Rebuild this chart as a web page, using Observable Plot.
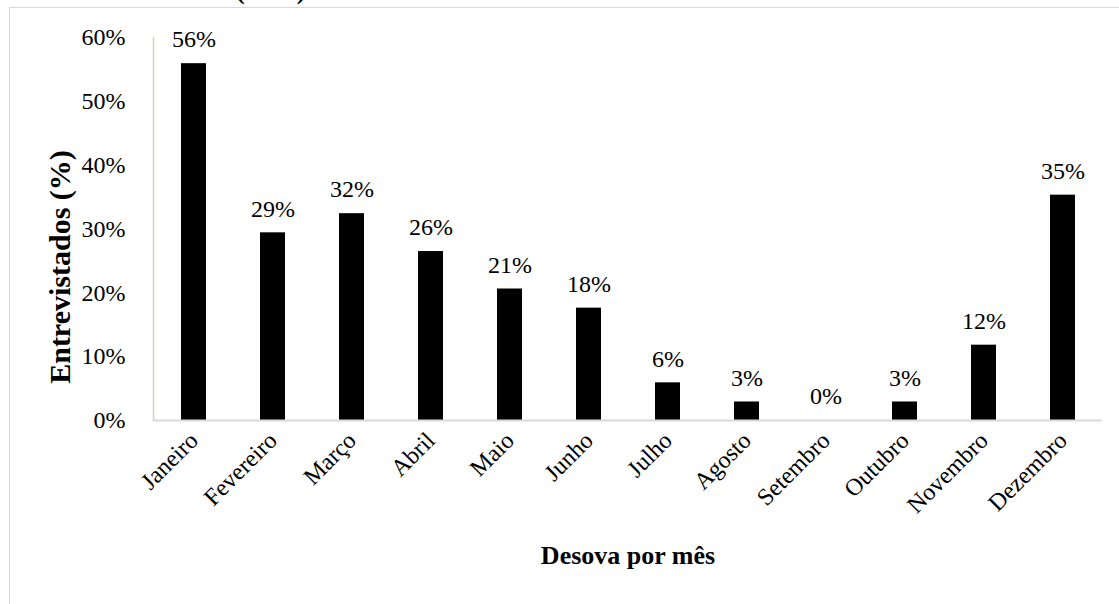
<!DOCTYPE html>
<html>
<head>
<meta charset="utf-8">
<script src="https://cdn.jsdelivr.net/npm/d3@7"></script>
<script src="https://cdn.jsdelivr.net/npm/@observablehq/plot@0.6"></script>
<style>
  html, body { margin: 0; padding: 0; background: #fff; overflow: hidden; }
  #wrap { position: relative; width: 1119px; height: 604px; overflow: hidden; font-family: "Liberation Serif", serif; }
  #border { position: absolute; left: 9px; top: 7px; width: 1200px; height: 700px; border: 1px solid #d9d9d9; box-sizing: border-box; }
  #title { position: absolute; left: 0; top: -24px; width: 475px; text-align: center; font-weight: bold; font-size: 26px; line-height: 30px; color: #000; }
  #chart { position: absolute; left: 0; top: 0; }
  #chart svg text { font-family: "Liberation Serif", serif !important; font-variant: normal !important; font-variant-numeric: normal !important; }
</style>
</head>
<body>
<div id="wrap">
  <div id="border"></div>
  <div id="title">Brasil (2017).</div>
  <div id="chart"></div>
</div>
<script>
const months = ["Janeiro", "Fevereiro", "Março", "Abril", "Maio", "Junho", "Julho", "Agosto", "Setembro", "Outubro", "Novembro", "Dezembro"];
const shares = [0.559, 0.294, 0.324, 0.2647, 0.206, 0.176, 0.059, 0.029, 0, 0.029, 0.118, 0.353];
const yTicks = [0, 0.1, 0.2, 0.3, 0.4, 0.5, 0.6];
const xTitle = "Desova por mês";
const yTitle = "Entrevistados (%)";

const data = months.map((m, i) => ({month: m, value: shares[i]}));
const pct = d3.format(".0%");
const serif = "Liberation Serif";

const plot = Plot.plot({
  width: 1119,
  height: 604,
  marginLeft: 153,
  marginRight: 17,
  marginTop: 37,
  marginBottom: 184,
  style: {fontFamily: serif, fontSize: "24px", color: "#000", background: "transparent", overflow: "visible"},
  x: {domain: months, type: "band", paddingInner: 0.684, paddingOuter: 0.342, label: null},
  y: {domain: [0, 0.6], label: null},
  marks: [
    Plot.frame({anchor: "left", stroke: "#d6d2c0", strokeWidth: 1.5}),
    Plot.axisY({ticks: yTicks, tickFormat: pct, tickSize: 0, tickPadding: 28, label: null, fontSize: 24, fontFamily: serif, fontVariant: "normal"}),
    Plot.axisX({tickSize: 0, tickRotate: -45, tickPadding: 16, label: null, fontSize: 24, fontFamily: serif}),
    Plot.barY(data, {x: "month", y: "value", fill: "#000"}),
    Plot.ruleY([0], {stroke: "#d9d9d9", strokeWidth: 2}),
    Plot.text(data, {x: "month", y: "value", text: d => pct(d.value), dy: -24, fontSize: 24, fontFamily: serif, fontVariant: "normal", fill: "#000"}),
    Plot.text([xTitle], {frameAnchor: "bottom", dy: 143, fontWeight: "bold", fontSize: 26, fontFamily: serif, fill: "#000"}),
    Plot.text([yTitle], {frameAnchor: "left", textAnchor: "middle", dx: -93, dy: 38, rotate: -90, fontWeight: "bold", fontSize: 30, fontFamily: serif, fill: "#000"})
  ]
});
document.getElementById("chart").appendChild(plot);
</script>
</body>
</html>
